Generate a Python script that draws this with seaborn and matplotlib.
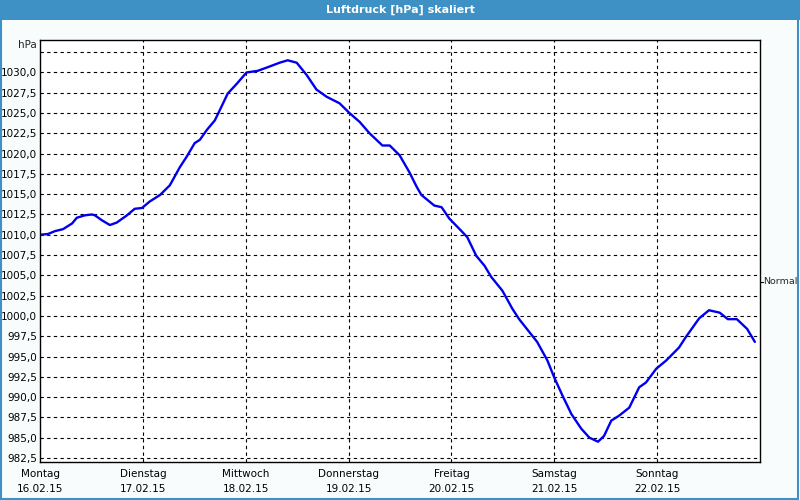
import matplotlib
matplotlib.use("Agg")
import matplotlib.pyplot as plt
import matplotlib.patches as mpatches
import seaborn as sns
import pandas as pd

# ---- data ----
hours = [0.0, 1.9, 3.5, 5.4, 7.5, 8.6, 10.5, 12.1, 12.8, 14.4, 16.3, 17.9, 20.3, 22.1, 23.8,
         25.6, 28.0, 30.3, 32.6, 34.2, 36.1, 37.3, 38.9, 40.8, 41.9, 43.8, 45.9, 48.2, 50.8,
         52.9, 55.9, 57.8, 59.9, 62.2, 64.5, 66.9, 69.9, 72.2, 74.6, 76.9, 79.9, 81.6, 83.9,
         86.2, 87.9, 89.0, 92.0, 93.7, 95.5, 97.9, 99.7, 101.8, 103.7, 105.3, 107.9, 110.2,
         111.8, 114.2, 116.0, 118.4, 120.0, 121.9, 124.0, 126.3, 128.2, 130.2, 131.6, 133.3,
         135.1, 137.5, 139.8, 141.4, 143.8, 146.1, 149.1, 150.7, 153.8, 156.1, 158.6, 160.5,
         162.6, 165.0, 166.8]
pressure = [1010.0, 1010.1, 1010.45, 1010.7, 1011.4, 1012.1, 1012.4, 1012.5, 1012.4, 1011.8,
            1011.2, 1011.5, 1012.4, 1013.2, 1013.3, 1014.1, 1014.9, 1016.1, 1018.3, 1019.6,
            1021.3, 1021.7, 1022.9, 1024.1, 1025.3, 1027.4, 1028.6, 1030.0, 1030.2, 1030.6,
            1031.2, 1031.5, 1031.2, 1029.7, 1027.9, 1027.0, 1026.2, 1025.0, 1023.9, 1022.5,
            1021.0, 1021.0, 1019.8, 1017.7, 1015.9, 1014.9, 1013.6, 1013.4, 1012.0, 1010.7,
            1009.7, 1007.4, 1006.2, 1004.8, 1003.1, 1000.9, 999.6, 998.0, 996.8, 994.5, 992.4,
            990.2, 987.9, 986.1, 985.0, 984.5, 985.2, 987.1, 987.7, 988.7, 991.2, 991.8, 993.5,
            994.5, 996.1, 997.4, 999.7, 1000.7, 1000.4, 999.6, 999.6, 998.4, 996.8]

day_names = ["Montag", "Dienstag", "Mittwoch", "Donnerstag", "Freitag", "Samstag", "Sonntag"]
day_dates = ["16.02.15", "17.02.15", "18.02.15", "19.02.15", "20.02.15", "21.02.15", "22.02.15"]
y_ticks = [982.5, 985.0, 987.5, 990.0, 992.5, 995.0, 997.5, 1000.0, 1002.5, 1005.0,
           1007.5, 1010.0, 1012.5, 1015.0, 1017.5, 1020.0, 1022.5, 1025.0, 1027.5, 1030.0]
normal_level = 1004.2
title = "Luftdruck [hPa] skaliert"
unit = "hPa"

df = pd.DataFrame({"hours": hours, "pressure": pressure})

sns.set_style("white")
plt.rcParams["font.family"] = ["DejaVu Sans"]

fig = plt.figure(figsize=(8, 5), dpi=100)
fig.patch.set_facecolor("#f9fcfc")

# title bar
fig.patches.append(mpatches.Rectangle((0, 1 - 20 / 500), 1, 20 / 500, transform=fig.transFigure,
                                      facecolor="#3d91c4", edgecolor="none", zorder=0))
fig.text(0.5, 1 - 10 / 500, title, color="white", fontsize=8, fontweight="bold",
         ha="center", va="center")
# outer frame
fig.patches.append(mpatches.Rectangle((0.001, 0.003), 0.997, 0.99, transform=fig.transFigure,
                                      facecolor="none", edgecolor="#3d91c4", linewidth=1.5, zorder=0))

ax = fig.add_axes([40 / 800, 1 - 462 / 500, 720 / 800, 422 / 500])
ax.set_facecolor("white")

sns.lineplot(data=df, x="hours", y="pressure", ax=ax, color="#0000ee", linewidth=1.7)

ax.set_xlim(0, 168)
ax.set_ylim(982.0, 1034.0)

# grid
for d in range(1, 7):
    ax.axvline(d * 24, color="black", linestyle=(0, (3, 3)), linewidth=0.8, zorder=0)
for v in y_ticks + [1032.5]:
    ax.axhline(v, color="black", linestyle=(0, (3, 3)), linewidth=0.8, zorder=0)

ax.set_yticks(y_ticks)
ax.set_yticklabels([f"{v:.1f}".replace(".", ",") for v in y_ticks])
ax.set_xticks([d * 24 for d in range(7)])
ax.set_xticklabels([f"{n}\n{d}" for n, d in zip(day_names, day_dates)], linespacing=1.6)
ax.tick_params(axis="both", length=0, labelsize=7.5, colors="black")
ax.tick_params(axis="y", pad=2)
ax.tick_params(axis="x", pad=5)
ax.set_xlabel("")
ax.set_ylabel("")

for s in ax.spines.values():
    s.set_color("black")
    s.set_linewidth(1.0)
    s.set_visible(True)

ax.text(-0.005, 1033.4, unit, transform=ax.get_yaxis_transform(), ha="right", va="center", fontsize=7.5)

# "Normal" marker on right side
ax.plot([1.0, 1.004], [normal_level, normal_level], transform=ax.get_yaxis_transform(),
        color="black", linewidth=0.8, clip_on=False)
ax.text(1.005, normal_level, "Normal", transform=ax.get_yaxis_transform(), ha="left",
        va="center", fontsize=6.8)

fig.savefig("out.png", dpi=100, facecolor=fig.get_facecolor())
